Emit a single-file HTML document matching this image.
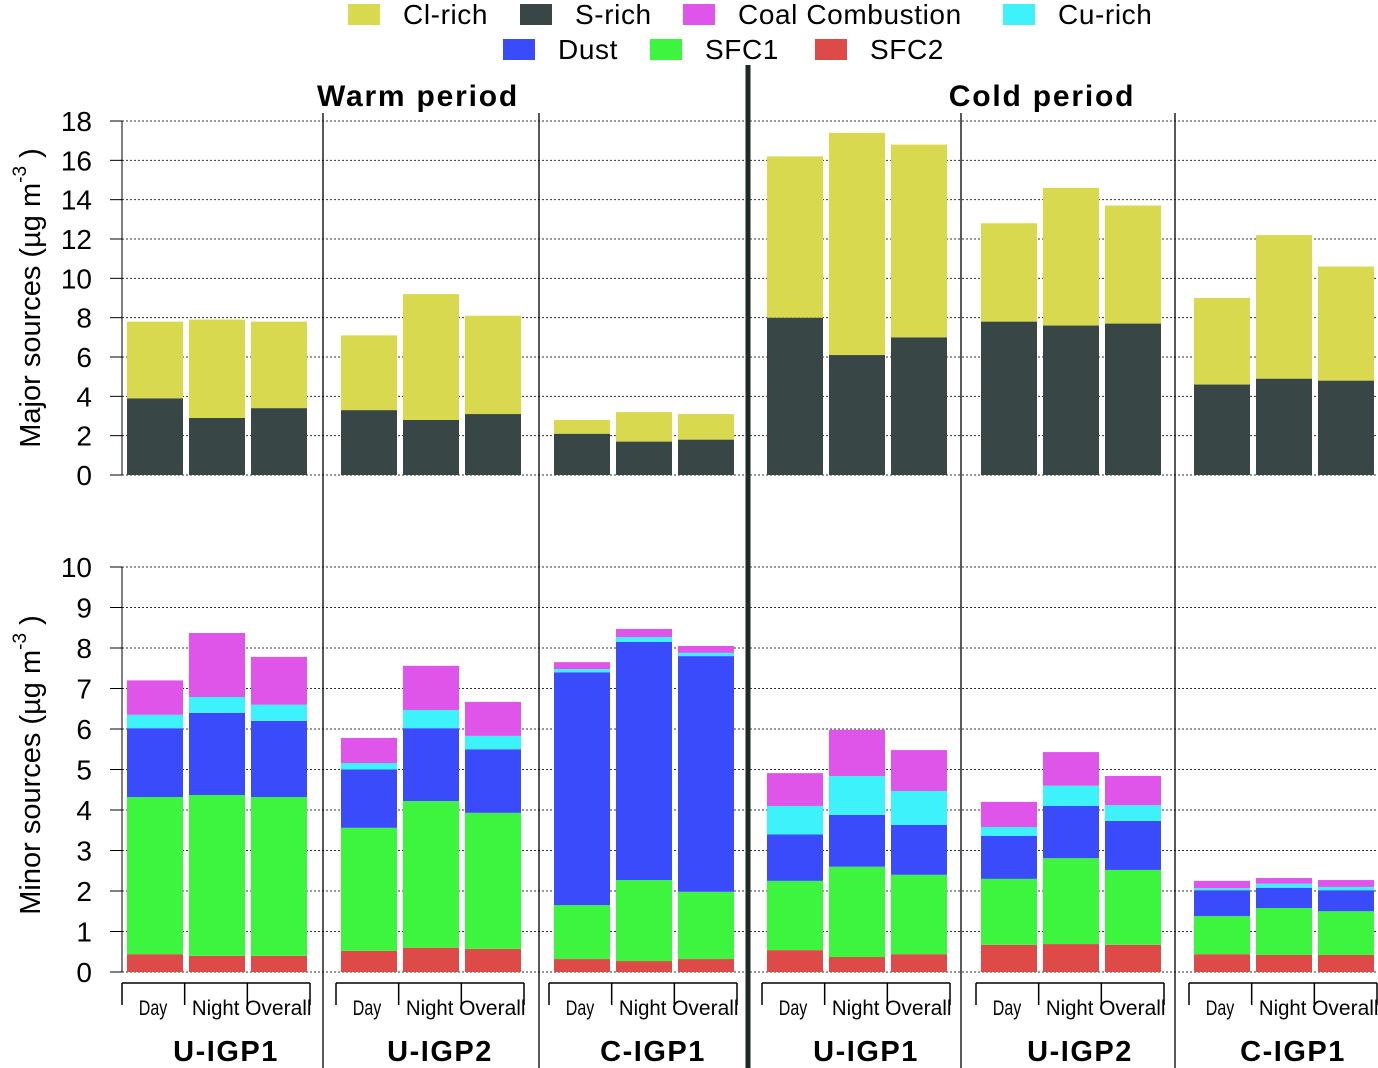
<!DOCTYPE html>
<html><head><meta charset="utf-8"><style>
html,body{margin:0;padding:0;background:#fff;}
svg{display:block;font-family:"Liberation Sans",Arial,sans-serif;}
</style></head><body>
<svg id="chart" width="1378" height="1068" viewBox="0 0 1378 1068" xmlns="http://www.w3.org/2000/svg"></svg>
<script>
const groups = ["U-IGP1","U-IGP2","C-IGP1","U-IGP1","U-IGP2","C-IGP1"];
const periods = ["Warm period","Cold period"];
const times = ["Day","Night","Overall"];
// Top panel: S-rich and Cl-rich (µg m-3) per bar (18 bars)
const sRich  = [3.9,2.9,3.4, 3.3,2.8,3.1, 2.1,1.7,1.8, 8.0,6.1,7.0, 7.8,7.6,7.7, 4.6,4.9,4.8];
const clRich = [3.9,5.0,4.4, 3.8,6.4,5.0, 0.7,1.5,1.3, 8.2,11.3,9.8, 5.0,7.0,6.0, 4.4,7.3,5.8];
// Bottom panel: minor sources
const sfc2 = [0.44,0.40,0.40, 0.52,0.60,0.57, 0.32,0.27,0.32, 0.54,0.37,0.44, 0.67,0.69,0.67, 0.44,0.42,0.42];
const sfc1 = [3.88,3.97,3.92, 3.04,3.62,3.36, 1.33,2.00,1.66, 1.71,2.23,1.96, 1.63,2.12,1.85, 0.94,1.16,1.08];
const dust = [1.70,2.03,1.88, 1.44,1.80,1.57, 5.75,5.88,5.82, 1.15,1.28,1.23, 1.06,1.29,1.21, 0.64,0.50,0.52];
const cuRich = [0.33,0.39,0.40, 0.16,0.45,0.33, 0.08,0.12,0.08, 0.70,0.96,0.84, 0.22,0.50,0.39, 0.05,0.10,0.08];
const coal = [0.85,1.58,1.18, 0.62,1.09,0.84, 0.17,0.20,0.17, 0.81,1.14,1.01, 0.62,0.83,0.72, 0.18,0.14,0.17];
const topTicks = [0,2,4,6,8,10,12,14,16,18];
const botTicks = [0,1,2,3,4,5,6,7,8,9,10];

const C = {cl:"#d9d94f", s:"#384745", coal:"#df55ea", cu:"#3df2fa", dust:"#3a4bfb", sfc1:"#3df53f", sfc2:"#de4a48"};
const svg = document.getElementById('chart');
const NS = "http://www.w3.org/2000/svg";
function mk(tag, attrs, parent){const e=document.createElementNS(NS,tag);for(const k in attrs)e.setAttribute(k,attrs[k]);(parent||svg).appendChild(e);return e;}
const yTop = v => 475 - v*(354/18);
const yBot = v => 972 - v*40.5;
const groupStart = [122,336,549,762,976,1189];
const barX = (g,i) => groupStart[g] + 5 + i*62;
const BW = 56;

topTicks.forEach(t=>{
  const l=mk('line',{x1:122,x2:1378,y1:yTop(t),y2:yTop(t),stroke:"#333","stroke-dasharray":"2,2","stroke-width":1});
  
  const tl=mk('text',{x:92,y:yTop(t)+10,"text-anchor":"end","font-size":28,fill:"#000"});tl.textContent=t;
  
  mk('line',{x1:110,x2:122,y1:yTop(t),y2:yTop(t),stroke:"#000"});
});
botTicks.forEach(t=>{
  const l=mk('line',{x1:122,x2:1378,y1:yBot(t),y2:yBot(t),stroke:"#333","stroke-dasharray":"2,2","stroke-width":1});
  
  const tl=mk('text',{x:92,y:yBot(t)+10,"text-anchor":"end","font-size":28,fill:"#000"});tl.textContent=t;
  
  mk('line',{x1:110,x2:122,y1:yBot(t),y2:yBot(t),stroke:"#000"});
});
mk('line',{x1:122,x2:122,y1:yTop(18),y2:yTop(0),stroke:"#000"});
mk('line',{x1:122,x2:122,y1:yBot(10),y2:yBot(0),stroke:"#000"});

for(let g=0;g<6;g++)for(let i=0;i<3;i++){
  const k=g*3+i, x=barX(g,i);
  let base=0;
  [[sRich,C.s,'s-rich'],[clRich,C.cl,'cl-rich']].forEach(([arr,col,nm])=>{
    const r=mk('rect',{x:x,width:BW,y:yTop(base+arr[k]),height:yTop(base)-yTop(base+arr[k]),fill:col});
    
    base+=arr[k];
  });
  base=0;
  [[sfc2,C.sfc2,'sfc2'],[sfc1,C.sfc1,'sfc1'],[dust,C.dust,'dust'],[cuRich,C.cu,'cu-rich'],[coal,C.coal,'coal']].forEach(([arr,col,nm])=>{
    const r=mk('rect',{x:x,width:BW,y:yBot(base+arr[k]),height:yBot(base)-yBot(base+arr[k]),fill:col});
    
    base+=arr[k];
  });
}

[323,539,961,1175].forEach(x=>{const l=mk('line',{x1:x,x2:x,y1:113,y2:1068,stroke:"#000","stroke-width":1.3});
  });
{const l=mk('line',{x1:748,x2:748,y1:65,y2:1068,stroke:"#1d2b28","stroke-width":5});
  }

for(let g=0;g<6;g++){
  const s=groupStart[g], e=s+188;
  mk('line',{x1:s,x2:e,y1:983,y2:983,stroke:"#000","stroke-width":1.5});
  for(let j=0;j<4;j++){const tx=s+j*62.67;mk('line',{x1:tx,x2:tx,y1:983,y2:1005,stroke:"#000","stroke-width":1.5});}
  times.forEach((t,i)=>{
    const tl=mk('text',{x:s+31+i*62.67,y:1015,"text-anchor":"middle","font-size":21,fill:"#000",textLength:t.length*9.5,lengthAdjust:"spacingAndGlyphs"});tl.textContent=t;
    
  });
  const gl=mk('text',{x:s+104,y:1061,"text-anchor":"middle","font-size":29,"font-weight":"bold",fill:"#000","letter-spacing":"1.5"});gl.textContent=groups[g];
  
}
[[418,periods[0]],[1042,periods[1]]].forEach(([x,t])=>{
  const tl=mk('text',{x:x,y:106,"text-anchor":"middle","font-size":30,"font-weight":"bold",fill:"#000","letter-spacing":"1.8"});tl.textContent=t;
  
});
function ytitle(cy,txt,nm){
  const t=mk('text',{x:0,y:0,"text-anchor":"middle","font-size":29,fill:"#000",transform:`translate(40,${cy}) rotate(-90)`});
  
  t.appendChild(document.createTextNode(txt+" (µg m"));
  const sp=document.createElementNS(NS,'tspan');sp.setAttribute('dy','-14');sp.setAttribute('font-size','19');sp.textContent='-3';t.appendChild(sp);
  const sp2=document.createElementNS(NS,'tspan');sp2.setAttribute('dy','14');sp2.textContent=' )';t.appendChild(sp2);
}
ytitle(298,"Major sources","top-y-axis-title");
ytitle(765,"Minor sources","bottom-y-axis-title");
const legend=[["Cl-rich",C.cl,348,4],["S-rich",C.s,520,4],["Coal Combustion",C.coal,683,4],["Cu-rich",C.cu,1003,4],["Dust",C.dust,503,39],["SFC1",C.sfc1,650,39],["SFC2",C.sfc2,815,39]];
legend.forEach(([n,c,x,y])=>{
  const g=mk('g',{});
  mk('rect',{x:x,y:y,width:32,height:21,fill:c},g);
  const t=mk('text',{x:x+55,y:y+20,"font-size":28,fill:"#000","letter-spacing":"0.6"},g);t.textContent=n;
});
</script>
</body></html>
